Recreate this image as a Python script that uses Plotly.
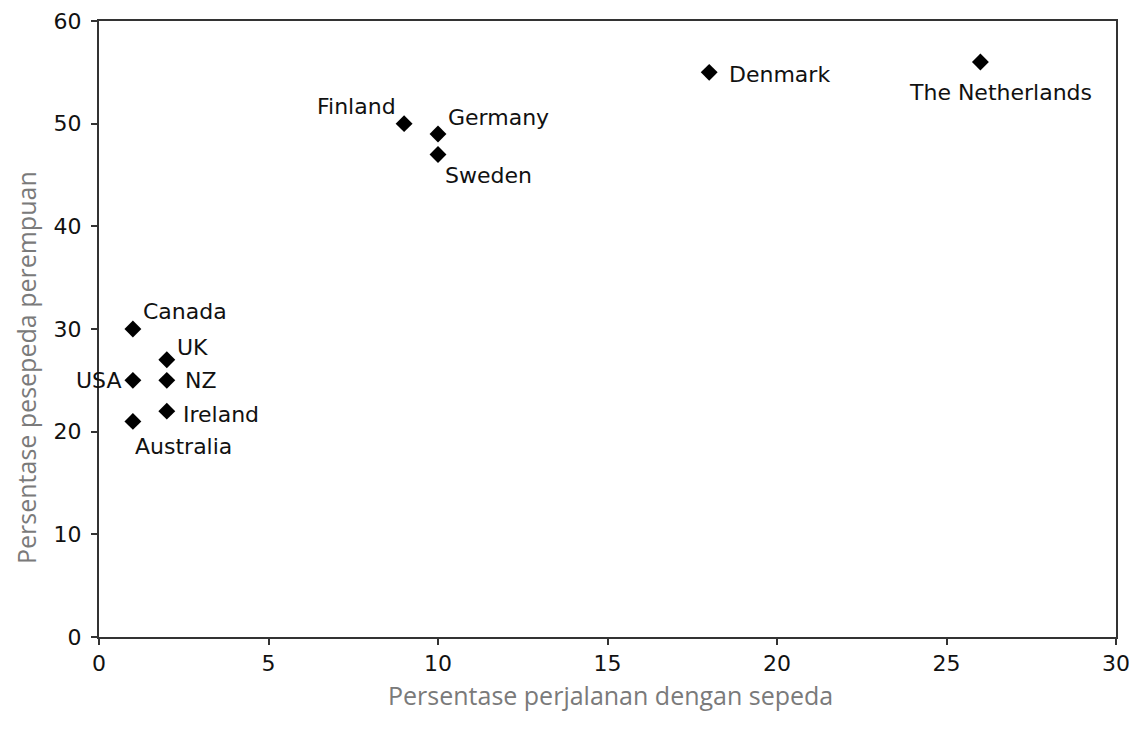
import plotly.graph_objects as go

countries = ["Canada", "UK", "USA", "NZ", "Ireland", "Australia",
             "Finland", "Germany", "Sweden", "Denmark", "The Netherlands"]
bike_trip_pct = [1, 2, 1, 2, 2, 1, 9, 10, 10, 18, 26]
female_cyclist_pct = [30, 27, 25, 25, 22, 21, 50, 49, 47, 55, 56]

x_ticks = [0, 5, 10, 15, 20, 25, 30]
y_ticks = [0, 10, 20, 30, 40, 50, 60]

x_title = "Persentase perjalanan dengan sepeda"
y_title = "Persentase pesepeda perempuan"

# label placement (xanchor, xshift, yshift) in pixels
label_style = {
    "Canada": ("left", 8, 18),
    "UK": ("left", 8, 12),
    "USA": ("right", -9, 0),
    "NZ": ("left", 16, 0),
    "Ireland": ("left", 14, -3),
    "Australia": ("left", 0, -25),
    "Finland": ("right", -6, 17),
    "Germany": ("left", 8, 16),
    "Sweden": ("left", 5, -21),
    "Denmark": ("left", 18, -2),
    "The Netherlands": ("center", 20, -30),
}

LABEL_FONT = dict(family="DejaVu Sans, Liberation Sans, Arial", size=22, color="#111111")
TITLE_FONT = dict(family="Open Sans, Noto Sans", size=25, color="#7a7a7a")

fig = go.Figure()
fig.add_trace(go.Scatter(
    x=bike_trip_pct, y=female_cyclist_pct, mode="markers",
    marker=dict(symbol="diamond", size=13, color="black"),
    hoverinfo="text", text=countries, showlegend=False,
))

for c, xv, yv in zip(countries, bike_trip_pct, female_cyclist_pct):
    xa, xs, ys = label_style[c]
    fig.add_annotation(x=xv, y=yv, text=c, showarrow=False,
                       xanchor=xa, yanchor="middle", xshift=xs, yshift=ys,
                       font=LABEL_FONT)

# axis titles
fig.add_annotation(xref="paper", yref="paper", x=0.5, y=0, text=x_title,
                   showarrow=False, xanchor="center", yanchor="middle",
                   xshift=3, yshift=-58, font=TITLE_FONT)
fig.add_annotation(xref="paper", yref="paper", x=0, y=0.5, text=y_title,
                   showarrow=False, xanchor="center", yanchor="middle",
                   textangle=-90, xshift=-73, yshift=-39, font=TITLE_FONT)

fig.update_layout(
    width=1137, height=732,
    margin=dict(l=91, r=29, t=13, b=103, autoexpand=False),
    plot_bgcolor="white", paper_bgcolor="white",
    font=LABEL_FONT,
)
axis_common = dict(
    ticks="outside", ticklen=6, tickwidth=1.5, tickcolor="#333",
    showline=True, linecolor="#333", linewidth=2, mirror=True,
    showgrid=False, zeroline=False, automargin=False,
    tickfont=LABEL_FONT, ticklabeloverflow="allow",
)
fig.update_xaxes(range=[0, 30], tickvals=x_ticks, ticklabelstandoff=0, **axis_common)
fig.update_yaxes(range=[0, 60], tickvals=y_ticks, ticklabelstandoff=5, **axis_common)

fig.write_html("out.html")
